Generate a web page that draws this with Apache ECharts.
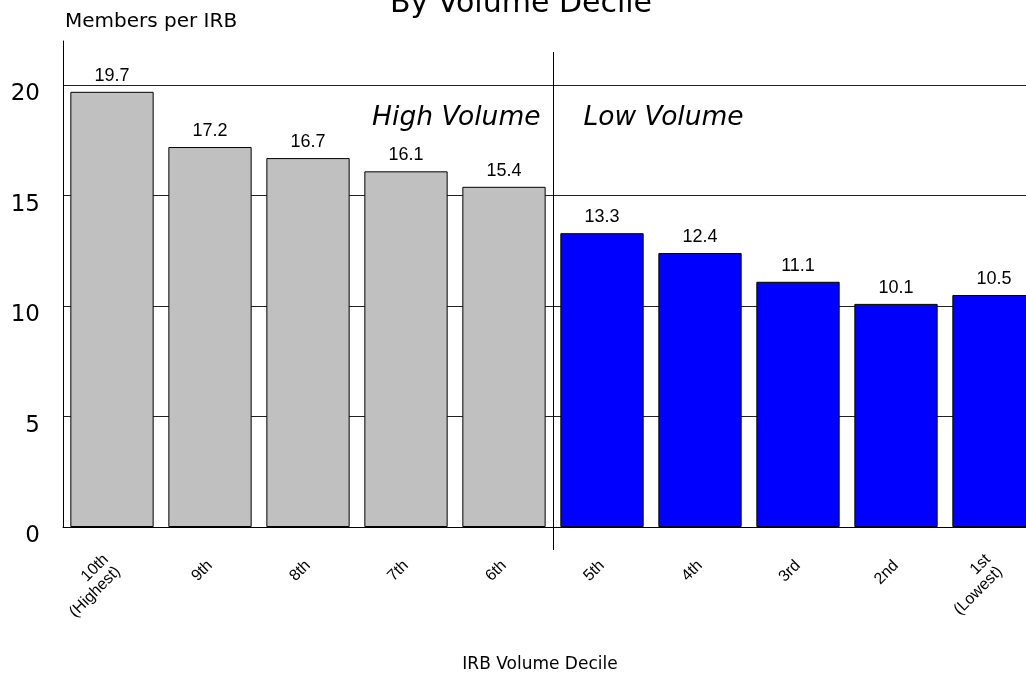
<!DOCTYPE html>
<html><head><meta charset="utf-8">
<script src="https://cdn.jsdelivr.net/npm/echarts@6/dist/echarts.min.js"></script>
<style>html,body{margin:0;padding:0;background:#fff}#c{width:1026px;height:674px}</style>
</head><body><div id="c"></div>
<script>
// ---- data ----
const categories = ['10th\n(Highest)', '9th', '8th', '7th', '6th', '5th', '4th', '3rd', '2nd', '1st\n(Lowest)'];
const values = [19.7, 17.2, 16.7, 16.1, 15.4, 13.3, 12.4, 11.1, 10.1, 10.5];
const groups = ['high', 'high', 'high', 'high', 'high', 'low', 'low', 'low', 'low', 'low'];
const groupNames = ['High Volume', 'Low Volume'];
const yTickValues = [0, 5, 10, 15, 20];
const yAxisMax = 22;
const chartTitle = 'By Volume Decile';
const yAxisTitle = 'Members per IRB';
const xAxisTitle = 'IRB Volume Decile';

// ---- styles ----
const groupColors = { high: '#c0c0c0', low: '#0000ff' };

const chart = echarts.init(document.getElementById('c'), null, { renderer: 'canvas' });

const option = {
  animation: false,
  backgroundColor: '#fff',
  grid: { left: 63, top: 41, width: 980, height: 486, containLabel: false, outerBoundsMode: 'none' },
  xAxis: {
    type: 'category',
    data: categories,
    axisLine: { show: true, lineStyle: { color: '#000', width: 1 } },
    axisTick: { show: false },
    splitLine: { show: false },
    axisLabel: {
      rotate: 45,
      margin: 36,
      fontFamily: 'Liberation Sans',
      fontSize: 16,
      lineHeight: 17,
      color: '#000',
      interval: 0
    }
  },
  yAxis: {
    type: 'value',
    min: yTickValues[0],
    max: yAxisMax,
    interval: yTickValues[1] - yTickValues[0],
    axisLine: { show: true, lineStyle: { color: '#000', width: 1 } },
    axisTick: { show: false },
    splitLine: { show: true, showMaxLine: false, lineStyle: { color: '#222', width: 1 } },
    axisLabel: {
      showMaxLabel: false,
      margin: 23,
      fontFamily: 'DejaVu Sans',
      fontSize: 23,
      lineHeight: 18,
      verticalAlign: 'top',
      color: '#000'
    }
  },
  series: [{
    type: 'bar',
    data: values.map((v, i) => ({
      value: v,
      itemStyle: { color: groupColors[groups[i]] }
    })),
    barCategoryGap: '15%',
    itemStyle: { borderColor: '#000', borderWidth: 1 },
    label: {
      show: true,
      position: 'top',
      distance: 7,
      fontFamily: 'Liberation Sans',
      fontSize: 18,
      color: '#000',
      formatter: p => p.value.toFixed(1)
    }
  }]
};
chart.setOption(option);

// divider between groups and annotation texts, placed via the axes
const xa = chart.convertToPixel({ xAxisIndex: 0 }, 4);
const xb = chart.convertToPixel({ xAxisIndex: 0 }, 5);
const xDiv = Math.round((xa + xb) / 2) + 0.5;
const yTop = chart.convertToPixel({ yAxisIndex: 0 }, 21.5);
const yZero = chart.convertToPixel({ yAxisIndex: 0 }, 0);

chart.setOption({
  graphic: [
    { type: 'line', z: 100, shape: { x1: xDiv, y1: yTop, x2: xDiv, y2: yZero + 23 },
      style: { stroke: '#000', lineWidth: 1 } },
    { type: 'text', z: 100, x: 521, y: 4,
      style: { text: chartTitle, fontFamily: 'DejaVu Sans', fontSize: 30, fill: '#000', align: 'center', verticalAlign: 'middle' } },
    { type: 'text', z: 100, x: 65, y: 22,
      style: { text: yAxisTitle, fontFamily: 'DejaVu Sans', fontSize: 20, fill: '#000', align: 'left', verticalAlign: 'middle' } },
    { type: 'text', z: 100, x: xDiv - 13, y: 118,
      style: { text: groupNames[0], fontFamily: 'DejaVu Sans', fontStyle: 'italic', fontSize: 26.5, fill: '#000', align: 'right', verticalAlign: 'middle' } },
    { type: 'text', z: 100, x: xDiv + 30, y: 118,
      style: { text: groupNames[1], fontFamily: 'DejaVu Sans', fontStyle: 'italic', fontSize: 26.5, fill: '#000', align: 'left', verticalAlign: 'middle' } },
    { type: 'text', z: 100, x: 540, y: 665,
      style: { text: xAxisTitle, fontFamily: 'DejaVu Sans', fontSize: 17, fill: '#000', align: 'center', verticalAlign: 'middle' } }
  ]
});
</script>
</body></html>
